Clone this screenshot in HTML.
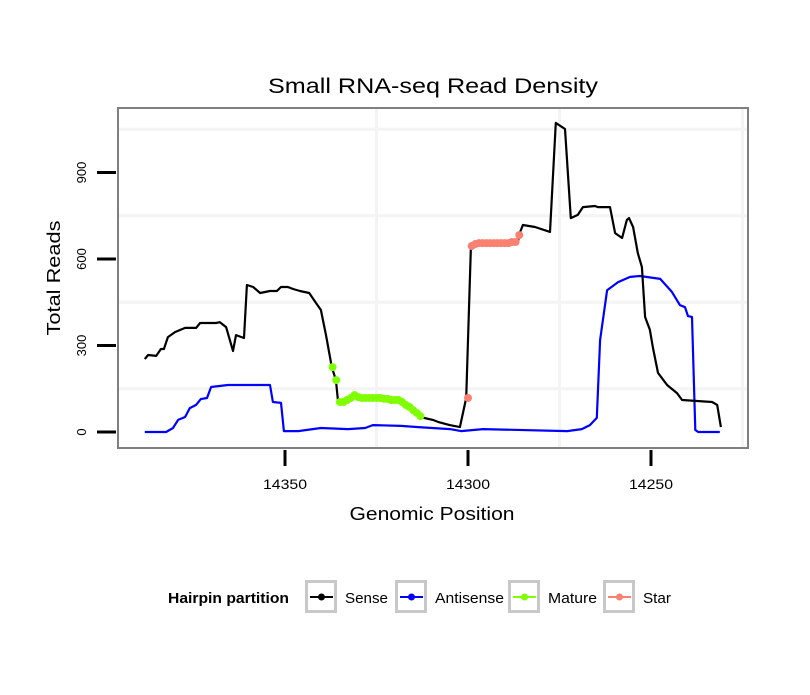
<!DOCTYPE html>
<html><head><meta charset="utf-8"><style>
body{margin:0;background:#fff;}
svg text{font-family:"Liberation Sans",sans-serif;}
</style></head><body>
<svg id="chart" width="810" height="690" xmlns="http://www.w3.org/2000/svg">
<rect width="810" height="690" fill="#fff"/>
<text x="433" y="93" font-size="21" text-anchor="middle" textLength="330" lengthAdjust="spacingAndGlyphs">Small RNA-seq Read Density</text>
<g id="grid"></g>
<rect x="118" y="108" width="630" height="340" fill="none" stroke="#7f7f7f" stroke-width="2"/>
<g id="marks"></g>
<g id="axes"></g>
<text x="432" y="520" font-size="18" text-anchor="middle" textLength="165" lengthAdjust="spacingAndGlyphs">Genomic Position</text>
<text transform="translate(60,278) rotate(-90)" font-size="18" text-anchor="middle" textLength="115" lengthAdjust="spacingAndGlyphs">Total Reads</text>
<g>
<text x="168" y="603" font-size="15" font-weight="bold" textLength="121" lengthAdjust="spacingAndGlyphs">Hairpin partition</text>
<g id="legend"></g>
</g>
</svg>
<script>
const sensePos=[14388.3,14387.4,14385.2,14383.9,14383.1,14382,14380,14377.3,14374.3,14373.2,14368.9,14367.8,14366.1,14364.2,14363.4,14361.2,14360.4,14358.7,14356.8,14354.1,14352.2,14351.1,14349.2,14347.8,14345.9,14343.4,14341.5,14340.2,14338.8,14337.2,14336.1,14335.5,14333,14331.4,14328.4,14324,14318.6,14316.4,14313.1,14309.6,14308.2,14305,14302.2,14300.5,14299.2,14294,14286.3,14286.1,14285,14281.7,14277.6,14276,14273.5,14271.9,14270,14268.6,14265.3,14264.5,14261.2,14259.8,14257.9,14256.6,14256,14254.9,14253.6,14252.5,14251.6,14250.3,14249.5,14248.1,14245.6,14242.9,14241.5,14233.3,14231.9,14230.9];
const senseReads=[253,267,264,288,288,329,347,361,361,378,378,381,364,281,336,326,510,503,482,489,489,503,503,496,489,482,447,423,336,225,180,104,111,128,118,118,111,87,52,42,35,24,17,118,642,655,659,683,718,711,694,1072,1051,742,753,780,784,780,780,690,673,735,742,711,621,572,399,354,295,205,163,135,111,104,94,17];
const antiPos=[14388.3,14382.5,14380.6,14379.2,14377.3,14376,14374.3,14373,14371.3,14370.2,14365.6,14354.1,14353.3,14351.1,14350.3,14346.4,14340.2,14332.8,14328.1,14326,14318.3,14313.6,14304.9,14301.9,14295.9,14272.9,14268.9,14266.7,14264.8,14263.9,14262,14259,14255.7,14253,14247.5,14244.3,14242.1,14240.7,14239.9,14238.8,14237.9,14237.1,14231.2];
const antiReads=[0,0,14,42,52,83,94,114,118,156,163,163,104,101,3,3,14,10,14,24,21,17,10,3,10,3,10,24,49,319,492,520,538,541,531,486,440,433,402,399,7,0,0];
const maturePos=[14337,14336,14335,14334,14333,14332,14331,14330,14329,14328,14327,14326,14325,14324,14323,14322,14321,14320,14319,14318,14317,14316,14315,14314,14313];
const matureReads=[225,180,104,104,111,118,128,121,118,118,118,118,118,118,115,115,111,111,111,104,94,87,76,66,55];
const starPos=[14300,14299,14298,14297,14296,14295,14294,14293,14292,14291,14290,14289,14288,14287,14286];
const starReads=[118,645,652,655,655,655,655,655,655,655,655,655,659,659,683];
const xTicks=[14350,14300,14250];
const xMinor=[14325,14275,14225];
const yTicks=[0,300,600,900];
const yMinor=[150,450,750,1050];
const legendLabels=["Sense","Antisense","Mature","Star"];
const legendColors=["#000000","#0000ff","#7fff00","#fa8072"];

const NS="http://www.w3.org/2000/svg";
function X(p){return 285+(14350-p)*3.66;}
function Y(v){return 432-v*0.2883;}
function mk(tag,attrs,parent){const e=document.createElementNS(NS,tag);for(const k in attrs)e.setAttribute(k,attrs[k]);parent.appendChild(e);return e;}
const grid=document.getElementById('grid'),marks=document.getElementById('marks'),axes=document.getElementById('axes'),legend=document.getElementById('legend');
yMinor.forEach(t=>{const g=mk('line',{x1:118,x2:748,y1:Y(t),y2:Y(t),stroke:'#f4f4f4','stroke-width':3},grid);});
xMinor.forEach(t=>{const g=mk('line',{x1:X(t),x2:X(t),y1:108,y2:448,stroke:'#f4f4f4','stroke-width':3},grid);});
function line(px,py,color,name){const d=px.map((p,i)=>(i?'L':'M')+X(p).toFixed(1)+','+Y(py[i]).toFixed(1)).join('');const e=mk('path',{d:d,fill:'none',stroke:color,'stroke-width':2.2,'stroke-linejoin':'round'},marks);}
line(antiPos,antiReads,'#0000ff','antisense-line');
line(sensePos,senseReads,'#000000','sense-line');
function pts(px,py,color,name){px.forEach((p,i)=>{const c=mk('circle',{cx:X(p),cy:Y(py[i]),r:4,fill:color},marks);});}
pts(maturePos,matureReads,'#7fff00','mature-point');
pts(starPos,starReads,'#fa8072','star-point');
yTicks.forEach(t=>{const l=mk('line',{x1:97,x2:116,y1:Y(t),y2:Y(t),stroke:'#000','stroke-width':3},axes);
const tx=mk('text',{transform:`translate(86,${Y(t)}) rotate(-90)`,'font-size':13,'text-anchor':'middle'},axes);tx.textContent=t;});
xTicks.forEach(t=>{const l=mk('line',{x1:X(t),x2:X(t),y1:450,y2:466,stroke:'#000','stroke-width':3},axes);
const tx=mk('text',{x:X(t),y:489,'font-size':14,'text-anchor':'middle',textLength:44,lengthAdjust:'spacingAndGlyphs'},axes);tx.textContent=t;});
const boxX=[305,395,508,603];
const textW=[43,69,49,28];
legendLabels.forEach((lab,i)=>{const bx=boxX[i];
const r=mk('rect',{x:bx+1.5,y:581.5,width:29,height:30,fill:'#fff',stroke:'#c8c8c8','stroke-width':3},legend);
mk('line',{x1:bx+5,x2:bx+28,y1:597,y2:597,stroke:legendColors[i],'stroke-width':2},legend);
mk('circle',{cx:bx+16.5,cy:597,r:3.5,fill:legendColors[i]},legend);
const t=mk('text',{x:bx+40,y:603,'font-size':15,textLength:textW[i],lengthAdjust:'spacingAndGlyphs'},legend);t.textContent=lab;});
</script>
</body></html>
